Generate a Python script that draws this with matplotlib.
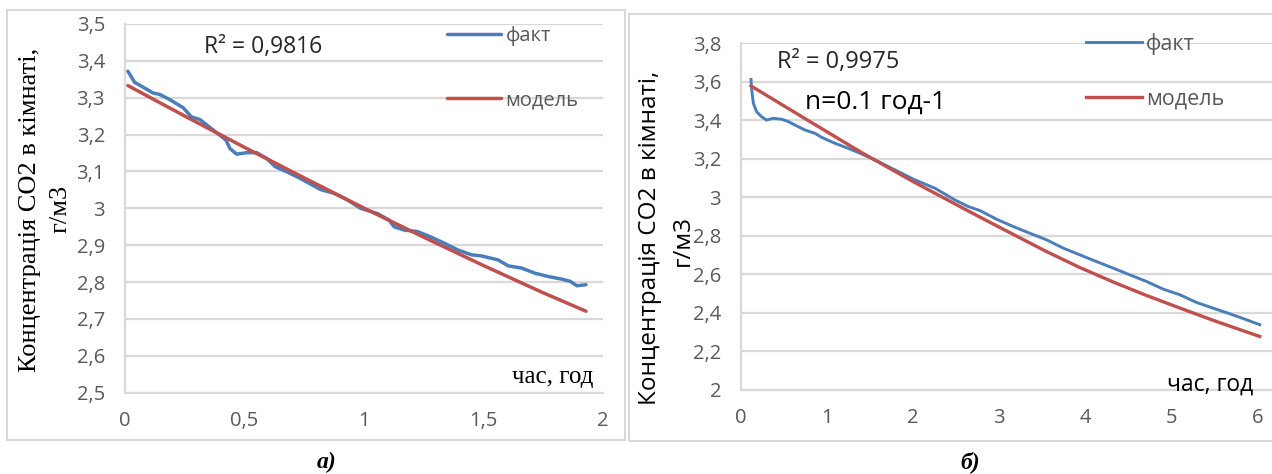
import matplotlib
matplotlib.use("Agg")
import matplotlib.pyplot as plt
from matplotlib.patches import Rectangle

# ---------------- data ----------------
# panel a)
fact_a_t = [0.014, 0.042, 0.077, 0.119, 0.147, 0.189, 0.245, 0.280, 0.315, 0.350,
            0.399, 0.424, 0.441, 0.469, 0.511, 0.553, 0.595, 0.630, 0.679, 0.735,
            0.819, 0.875, 0.931, 0.987, 1.057, 1.106, 1.127, 1.169, 1.225, 1.282,
            1.338, 1.394, 1.450, 1.492, 1.562, 1.604, 1.660, 1.716, 1.772, 1.828,
            1.863, 1.891, 1.929]
fact_a_c = [3.372, 3.342, 3.329, 3.313, 3.309, 3.295, 3.273, 3.248, 3.241, 3.223,
            3.198, 3.185, 3.162, 3.147, 3.151, 3.151, 3.135, 3.113, 3.099, 3.081,
            3.051, 3.041, 3.023, 3.000, 2.986, 2.968, 2.950, 2.941, 2.937, 2.922,
            2.905, 2.887, 2.874, 2.871, 2.860, 2.844, 2.838, 2.824, 2.815, 2.808,
            2.802, 2.790, 2.793]
model_a_t = [0.014, 0.25, 0.5, 0.75, 1.0, 1.25, 1.5, 1.75, 1.929]
model_a_c = [3.333, 3.251, 3.166, 3.083, 3.001, 2.922, 2.845, 2.771, 2.721]

# panel б)
fact_b_t = [0.122, 0.130, 0.149, 0.187, 0.245, 0.303, 0.381, 0.477, 0.555, 0.632,
            0.748, 0.864, 0.941, 1.096, 1.250, 1.405, 1.560, 1.792, 2.023, 2.255,
            2.487, 2.641, 2.777, 2.970, 3.163, 3.357, 3.550, 3.743, 3.936, 4.129,
            4.323, 4.516, 4.709, 4.902, 5.095, 5.288, 5.482, 5.675, 5.868, 6.023]
fact_b_c = [3.612, 3.557, 3.488, 3.444, 3.418, 3.401, 3.410, 3.405, 3.393, 3.375,
            3.349, 3.332, 3.311, 3.280, 3.254, 3.225, 3.194, 3.142, 3.090, 3.047,
            2.986, 2.952, 2.931, 2.886, 2.848, 2.813, 2.779, 2.736, 2.701, 2.666,
            2.632, 2.597, 2.563, 2.523, 2.494, 2.454, 2.424, 2.395, 2.364, 2.338]
model_b_t = [0.122, 0.75, 1.405, 2.0, 2.603, 2.777, 3.0, 3.550, 3.936, 4.323,
             4.709, 5.095, 5.5, 6.023]
model_b_c = [3.578, 3.408, 3.232, 3.082, 2.938, 2.897, 2.845, 2.718, 2.635, 2.560,
             2.490, 2.425, 2.358, 2.277]

xticks_a = [0, 0.5, 1, 1.5, 2]
xtick_labels_a = ["0", "0,5", "1", "1,5", "2"]
yticks_a = [2.5, 2.6, 2.7, 2.8, 2.9, 3.0, 3.1, 3.2, 3.3, 3.4, 3.5]
ytick_labels_a = ["2,5", "2,6", "2,7", "2,8", "2,9", "3", "3,1", "3,2", "3,3", "3,4", "3,5"]
xticks_b = [0, 1, 2, 3, 4, 5, 6]
xtick_labels_b = ["0", "1", "2", "3", "4", "5", "6"]
yticks_b = [2.0, 2.2, 2.4, 2.6, 2.8, 3.0, 3.2, 3.4, 3.6, 3.8]
ytick_labels_b = ["2", "2,2", "2,4", "2,6", "2,8", "3", "3,2", "3,4", "3,6", "3,8"]

label_fact = "факт"
label_model = "модель"
ylabel_line1 = "Концентрація СО2 в кімнаті,"
ylabel_line2 = "г/м3"
xlabel = "час, год"
r2_a = "R² = 0,9816"
r2_b = "R² = 0,9975"
n_text = "n=0.1 год-1"
cap_a = "а)"
cap_b = "б)"

# ---------------- style ----------------
W, H = 1272, 474
BLUE = "#4A7EBB"
RED = "#C0504D"
GRID = "#D9D9D9"
TICKC = "#595959"
SANS = ["Open Sans", "DejaVu Sans"]
SERIF = ["Liberation Serif", "DejaVu Serif"]

fig = plt.figure(figsize=(W / 100, H / 100), dpi=100)


def fx(px):
    return px / W


def fy(py):
    return 1 - py / H


def px_axes(x0, x1, ytop, ybot):
    return fig.add_axes([fx(x0), fy(ybot), fx(x1) - fx(x0), fy(ytop) - fy(ybot)])


# frames around each chart
fig.patches.append(Rectangle((fx(7), fy(440)), fx(625) - fx(7), fy(10) - fy(440),
                             transform=fig.transFigure, fill=False, edgecolor=GRID, lw=1.5))
fig.patches.append(Rectangle((fx(628.5), fy(440.5)), fx(1290) - fx(628.5), fy(14) - fy(440.5),
                             transform=fig.transFigure, fill=False, edgecolor=GRID, lw=1.5))


def style_axes(ax, xt, xtl, yt, ytl, fs):
    ax.set_xticks(xt)
    ax.set_xticklabels(xtl)
    ax.set_yticks(yt)
    ax.set_yticklabels(ytl)
    for lab in ax.get_xticklabels() + ax.get_yticklabels():
        lab.set_family(SANS)
        lab.set_fontsize(fs)
        lab.set_color(TICKC)
    ax.tick_params(length=0)
    ax.tick_params(axis="x", pad=13)
    ax.tick_params(axis="y", pad=14)
    ax.grid(axis="y", color=GRID, lw=1.6)
    ax.set_axisbelow(True)
    for s in ["top", "right"]:
        ax.spines[s].set_visible(False)
    for s in ["left", "bottom"]:
        ax.spines[s].set_color(GRID)
        ax.spines[s].set_linewidth(1.6)


# ---------------- panel a ----------------
axa = px_axes(124.5, 603, 24, 392.7)
la, = axa.plot(fact_a_t, fact_a_c, color=BLUE, lw=2.5, label=label_fact, solid_capstyle="round")
ma, = axa.plot(model_a_t, model_a_c, color=RED, lw=2.5, label=label_model, solid_capstyle="round")
axa.set_xlim(0, 2)
axa.set_ylim(2.5, 3.5)
style_axes(axa, xticks_a, xtick_labels_a, yticks_a, ytick_labels_a, 14.5)
leg = axa.legend(handles=[la, ma], loc="upper left", bbox_to_anchor=(fx(447), fy(26)),
                 bbox_transform=fig.transFigure, frameon=False, borderpad=0, borderaxespad=0,
                 handlelength=2.7, handletextpad=0.2, labelspacing=2.2,
                 prop={"family": SANS, "size": 14.5})
for t in leg.get_texts():
    t.set_color(TICKC)

fig.text(fx(30), fy(210), ylabel_line1, rotation=90, ha="center", va="center",
         family=SERIF, fontsize=19, color="black")
fig.text(fx(60), fy(209), ylabel_line2, rotation=90, ha="center", va="center",
         family=SERIF, fontsize=19, color="black")
fig.text(fx(263), fy(47.5), r2_a, ha="center", va="center", family=SANS, fontsize=16.5, color="#262626")
fig.text(fx(553), fy(377), xlabel, ha="center", va="center", family=SERIF, fontsize=18, color="black")
fig.text(fx(327), fy(462), cap_a, ha="center", va="center", family=SERIF, fontsize=17,
         fontweight="bold", fontstyle="italic", color="black")

# ---------------- panel b ----------------
axb = px_axes(740.5, 1271.5, 43.2, 389.8)
lb, = axb.plot(fact_b_t, fact_b_c, color=BLUE, lw=2.1, label=label_fact)
mb, = axb.plot(model_b_t, model_b_c, color=RED, lw=2.4, label=label_model)
axb.set_xlim(0, 6.16)
axb.set_ylim(2.0, 3.8)
style_axes(axb, xticks_b, xtick_labels_b, yticks_b, ytick_labels_b, 14.5)
legb = axb.legend(handles=[lb, mb], loc="upper left", bbox_to_anchor=(fx(1086), fy(33)),
                  bbox_transform=fig.transFigure, frameon=False, borderpad=0, borderaxespad=0,
                  handlelength=2.6, handletextpad=0.2, labelspacing=1.55,
                  prop={"family": SANS, "size": 15.5})
for t in legb.get_texts():
    t.set_color(TICKC)

fig.text(fx(650), fy(238), ylabel_line1, rotation=90, ha="center", va="center",
         family=SANS, fontsize=17.5, color="black")
fig.text(fx(683), fy(241), ylabel_line2, rotation=90, ha="center", va="center",
         family=SANS, fontsize=17.5, color="black")
fig.text(fx(838), fy(62), r2_b, ha="center", va="center", family=SANS, fontsize=17, color="#262626")
fig.text(fx(876), fy(102), n_text, ha="center", va="center", family=SANS, fontsize=19, color="black")
fig.text(fx(1210), fy(385), xlabel, ha="center", va="center", family=SANS, fontsize=16.5, color="black")
fig.text(fx(970), fy(462), cap_b, ha="center", va="center", family=SERIF, fontsize=17,
         fontweight="bold", fontstyle="italic", color="black")

fig.savefig("out.png", dpi=100)
